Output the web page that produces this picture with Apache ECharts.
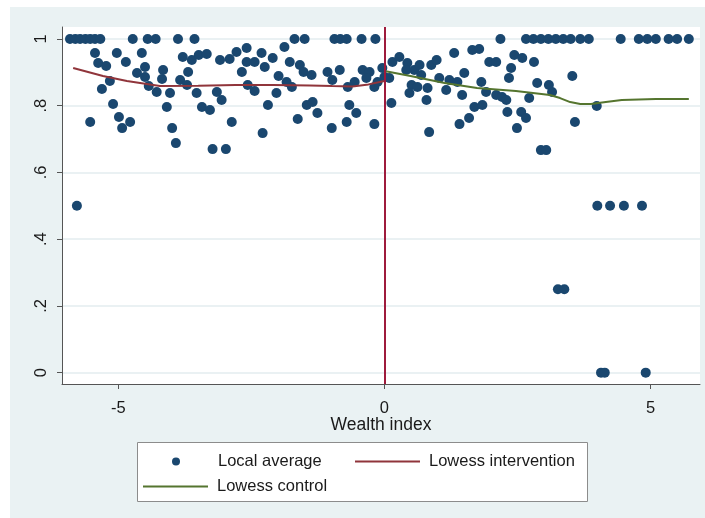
<!DOCTYPE html>
<html>
<head>
<meta charset="utf-8">
<script src="https://cdn.jsdelivr.net/npm/echarts@6/dist/echarts.min.js"></script>
<style>
  html, body { margin: 0; padding: 0; background: #fff; }
  #chart { width: 705px; height: 518px; }
</style>
</head>
<body>
<div id="chart"></div>
<script>
// local averages (x = wealth index, y = share)
var topRowX = [-5.91, -5.81, -5.72, -5.62, -5.53, -5.44, -5.34, -4.73, -4.45, -4.30, -3.88, -3.57,
  -1.69, -1.50, -0.94, -0.83, -0.71, -0.43, -0.17, 2.18, 2.66, 2.80, 2.94, 3.08, 3.22, 3.36, 3.50,
  3.68, 3.84, 4.44, 4.78, 4.94, 5.10, 5.34, 5.50, 5.72];

var localX = [-5.44, -5.03, -4.56, -5.38, -5.23, -4.86, -4.50, -4.65, -4.50, -5.16, -5.31, -4.43, -4.28,
  -4.16, -4.18, -4.03, -5.10, -5.53, -4.99, -4.78, -4.93, -4.09, -3.99, -3.92, -3.84, -3.71, -3.69,
  -3.79, -3.62, -3.49, -3.34, -3.53, -3.43, -3.28, -3.15, -3.06, -3.09, -2.91, -2.78, -2.68, -2.59,
  -2.57, -2.44, -2.59, -2.44, -2.31, -2.25, -2.10, -2.19, -2.03, -1.99, -1.88, -1.78, -1.59, -1.52,
  -1.37, -1.74, -1.84, -2.87, -3.23, -2.98, -2.29, -1.63, -1.46, -1.35, -1.26, -1.07, -0.98, -0.99,
  -0.84, -0.69, -0.66, -0.71, -0.53, -0.56,
  -0.41, -0.28, -0.34, -0.19, -0.13, -0.19, -0.04, 0.00, 0.09, 0.13, 0.15, 0.28, 0.43, 0.41, 0.56,
  0.66, 0.69, 0.51, 0.47, 0.62, 0.81, 0.79, 0.88, 0.98, 1.03, 1.16, 1.22, 1.31, 1.37, 1.46, 1.50,
  1.65, 1.78, 1.69, 1.84, 1.82, 1.91, 1.97, 2.10, 2.10, 2.21, 2.29, 2.38, 2.34, 2.44, 2.59, 2.81,
  2.31, 2.57, 2.66, 2.72, 2.87, 3.09, 3.15, 2.49, 2.94, 3.04, 1.41, 1.59, 0.84, 3.53, 3.58, 3.99,
  -5.78, 4.00, 4.24, 4.50, 4.84, 3.26, 3.38, 4.07, 4.14, 4.91];

var localY = [0.958, 0.958, 0.958, 0.928, 0.919, 0.931, 0.916, 0.898, 0.886, 0.874, 0.850, 0.859, 0.841,
  0.907, 0.880, 0.838, 0.805, 0.751, 0.766, 0.751, 0.733, 0.796, 0.733, 0.688, 0.877, 0.862, 0.901,
  0.946, 0.937, 0.952, 0.955, 0.838, 0.796, 0.787, 0.841, 0.817, 0.937, 0.940, 0.961, 0.901, 0.973,
  0.862, 0.844, 0.931, 0.931, 0.958, 0.916, 0.943, 0.802, 0.838, 0.889, 0.976, 0.931, 0.922, 0.901,
  0.892, 0.856, 0.871, 0.751, 0.670, 0.670, 0.718, 0.760, 0.802, 0.811, 0.778, 0.901, 0.877, 0.733,
  0.907, 0.856, 0.802, 0.751, 0.778, 0.871,
  0.907, 0.901, 0.883, 0.856, 0.871, 0.745, 0.913, 0.886, 0.883, 0.808, 0.931, 0.946, 0.928, 0.907, 0.907,
  0.922, 0.892, 0.862, 0.838, 0.856, 0.853, 0.817, 0.922, 0.937, 0.883, 0.847, 0.877, 0.958, 0.871, 0.832, 0.898,
  0.967, 0.970, 0.796, 0.802, 0.871, 0.841, 0.931, 0.931, 0.832, 0.826, 0.817, 0.913, 0.883, 0.952, 0.943, 0.931,
  0.781, 0.781, 0.763, 0.823, 0.868, 0.862, 0.841, 0.733, 0.667, 0.667, 0.745, 0.763, 0.721, 0.889, 0.751, 0.799,
  0.5, 0.5, 0.5, 0.5, 0.5, 0.25, 0.25, 0, 0, 0];

// lowess curves
var interventionX = [-5.85, -5.29, -4.84, -4.22, -3.5, -2.8, -2.1, -1.4, -0.98, -0.6, -0.3, 0];
var interventionY = [0.913, 0.889, 0.874, 0.859, 0.860, 0.862, 0.862, 0.861, 0.859, 0.858, 0.864, 0.874];
var controlX = [0, 0.49, 1.13, 1.74, 2.47, 3.11, 3.30, 3.49, 3.68, 3.88, 4.16, 4.46, 5.10, 5.72];
var controlY = [0.904, 0.889, 0.868, 0.853, 0.844, 0.832, 0.823, 0.811, 0.805, 0.805, 0.811, 0.817, 0.820, 0.820];

var xTicks = [-5, 0, 5];
var yTicks = [0, 0.2, 0.4, 0.6, 0.8, 1];
var yTickLabels = ['0', '.2', '.4', '.6', '.8', '1'];

var pts = [];
topRowX.forEach(function (x) { pts.push([x, 1]); });
localX.forEach(function (x, i) { pts.push([x, localY[i]]); });
var redLine = interventionX.map(function (x, i) { return [x, interventionY[i]]; });
var greenLine = controlX.map(function (x, i) { return [x, controlY[i]]; });

var font = "'Liberation Sans', Arial, sans-serif";
var lineIcon = 'path://M0,0H65V2H0Z';
var chart = echarts.init(document.getElementById('chart'));

function legendAt(left, top, item, w, h, padLeft) {
  return {
    left: left, top: top, data: [item],
    orient: 'horizontal', itemWidth: w, itemHeight: h, padding: 0,
    selectedMode: false,
    textStyle: { fontFamily: font, fontSize: 16.5, color: '#1a1a1a', padding: [0, 0, 0, padLeft] }
  };
}

chart.setOption({
  backgroundColor: '#fff',
  animation: false,
  graphic: [
    { type: 'rect', z: -10, shape: { x: 10, y: 7, width: 695, height: 511 }, style: { fill: '#eaf2f3' } },
    { type: 'rect', z: 1, shape: { x: 137.5, y: 442.5, width: 450, height: 59 },
      style: { fill: '#fff', stroke: '#8c8c8c', lineWidth: 1 } }
  ],
  grid: { left: 62, right: 5, top: 27, bottom: 134, show: true, backgroundColor: '#fff', borderWidth: 0 },
  legend: [
    legendAt(172, 453, { name: 'Local average', icon: 'circle' }, 8, 8, 33),
    legendAt(355, 453, { name: 'Lowess intervention', icon: lineIcon }, 65, 2, 4),
    legendAt(143, 478, { name: 'Lowess control', icon: lineIcon }, 65, 2, 4)
  ],
  xAxis: {
    type: 'value', min: -6.06, max: 5.93,
    name: 'Wealth index', nameLocation: 'middle', nameGap: 32, nameMoveOverlap: false,
    nameTextStyle: { fontFamily: font, fontSize: 17.5, color: '#1a1a1a' },
    axisLine: { onZero: false, lineStyle: { color: '#555', width: 1 } },
    axisTick: { customValues: xTicks, length: 5, lineStyle: { color: '#555' } },
    axisLabel: { customValues: xTicks, margin: 16, fontFamily: font, fontSize: 16.5, color: '#1a1a1a' },
    splitLine: { show: false }
  },
  yAxis: {
    type: 'value', min: -0.034, max: 1.036,
    axisLine: { show: true, onZero: false, lineStyle: { color: '#555', width: 1 } },
    axisTick: { show: true, customValues: yTicks, length: 5, lineStyle: { color: '#555' } },
    axisLabel: {
      customValues: yTicks, rotate: 90, margin: 12,
      fontFamily: font, fontSize: 16.5, color: '#1a1a1a',
      formatter: function (v) { var i = yTicks.indexOf(v); return i >= 0 ? yTickLabels[i] : ''; }
    },
    splitLine: { show: true, lineStyle: { color: '#e3ecef', width: 1.5 } }
  },
  series: [
    {
      name: 'Local average', type: 'scatter', data: pts,
      symbol: 'circle', symbolSize: 10,
      itemStyle: { color: '#1a476f', opacity: 1 },
      markLine: {
        silent: true, symbol: 'none', label: { show: false },
        lineStyle: { color: '#9e1b3c', width: 2, type: 'solid' },
        data: [{ xAxis: 0 }]
      }
    },
    {
      name: 'Lowess intervention', type: 'line', data: redLine,
      symbol: 'none', showSymbol: false,
      lineStyle: { color: '#90353b', width: 2 }, itemStyle: { color: '#90353b' }
    },
    {
      name: 'Lowess control', type: 'line', data: greenLine,
      symbol: 'none', showSymbol: false,
      lineStyle: { color: '#55752f', width: 2 }, itemStyle: { color: '#55752f' }
    }
  ]
});
</script>
</body>
</html>
